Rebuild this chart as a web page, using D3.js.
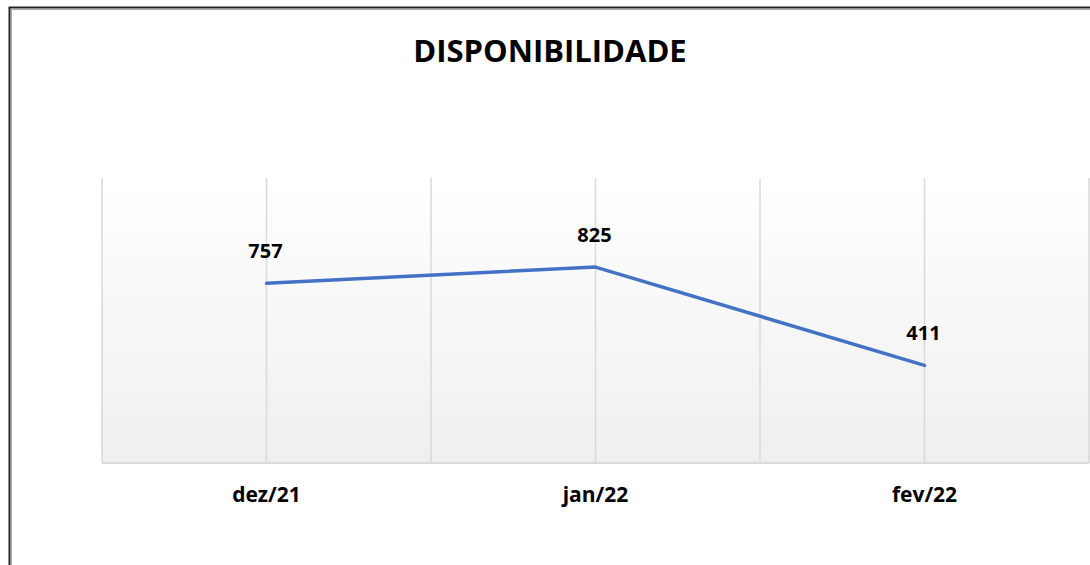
<!DOCTYPE html>
<html>
<head>
<meta charset="utf-8">
<script src="https://cdn.jsdelivr.net/npm/d3@7"></script>
<style>
  body { margin: 0; background: #fff; }
  text { font-family: "Open Sans", "Noto Sans", sans-serif; font-weight: bold; fill: #000; }
</style>
</head>
<body>
<svg id="chart" width="1090" height="565"></svg>
<script>
const categories = ['dez/21', 'jan/22', 'fev/22'];
const values = [757, 825, 411];
const yDomain = [0, 1200];
const title = 'DISPONIBILIDADE';

const svg = d3.select('#chart');
const W = 1090, H = 565;
const plot = { left: 102, right: 1089, top: 178, bottom: 463 };

// moldura
svg.append('path')
	.attr('d', `M9.5,${H} L9.5,7.5 L${W},7.5`)
	.attr('fill', 'none')
	.attr('stroke', '#222')
	.attr('stroke-width', 2);
svg.append('path')
	.attr('d', `M11.5,${H} L11.5,9.5 L${W},9.5`)
	.attr('fill', 'none')
	.attr('stroke', '#aaa')
	.attr('stroke-width', 1);

const defs = svg.append('defs');
const grad = defs.append('linearGradient')
	.attr('id', 'bg')
	.attr('x1', 0).attr('y1', 0).attr('x2', 0).attr('y2', 1);
grad.append('stop').attr('offset', '0%').attr('stop-color', '#ffffff');
grad.append('stop').attr('offset', '100%').attr('stop-color', '#efefef');

svg.append('rect')
	.attr('x', plot.left)
	.attr('y', plot.top)
	.attr('width', plot.right - plot.left)
	.attr('height', plot.bottom - plot.top)
	.attr('fill', 'url(#bg)');

const x = d3.scalePoint()
	.domain(categories)
	.range([plot.left, plot.right])
	.padding(0.5);
const step = x.step();

const y = d3.scaleLinear()
	.domain(yDomain)
	.range([plot.bottom, plot.top]);

// linhas de grade verticais (centro e borda de cada categoria)
const gridX = [];
categories.forEach((c, i) => {
	gridX.push(x(c) - step / 2);
	gridX.push(x(c));
});
gridX.push(plot.right);
svg.append('g')
	.selectAll('line')
	.data(gridX)
	.enter()
	.append('line')
	.attr('x1', (d) => d)
	.attr('x2', (d) => d)
	.attr('y1', plot.top)
	.attr('y2', plot.bottom)
	.attr('stroke', '#d9d9d9')
	.attr('stroke-width', 1.5);

svg.append('line')
	.attr('x1', plot.left)
	.attr('x2', plot.right)
	.attr('y1', plot.bottom)
	.attr('y2', plot.bottom)
	.attr('stroke', '#d9d9d9')
	.attr('stroke-width', 2);

const line = d3.line()
	.x((d, i) => x(categories[i]))
	.y((d) => y(d));

svg.append('path')
	.datum(values)
	.attr('d', line)
	.attr('fill', 'none')
	.attr('stroke', '#4472c4')
	.attr('stroke-width', 3.5)
	.attr('stroke-linecap', 'round')
	.attr('stroke-linejoin', 'round');

svg.append('g')
	.selectAll('text')
	.data(values)
	.enter()
	.append('text')
	.attr('x', (d, i) => x(categories[i]) - 1)
	.attr('y', (d) => y(d) - 25)
	.attr('text-anchor', 'middle')
	.style('font-size', '20px')
	.text((d) => d);

svg.append('g')
	.selectAll('text')
	.data(categories)
	.enter()
	.append('text')
	.attr('x', (d) => x(d))
	.attr('y', plot.bottom + 39)
	.attr('text-anchor', 'middle')
	.style('font-size', '21px')
	.text((d) => d);

svg.append('text')
	.attr('x', 550)
	.attr('y', 62)
	.attr('text-anchor', 'middle')
	.style('font-size', '31px')
	.text(title);
</script>
</body>
</html>
